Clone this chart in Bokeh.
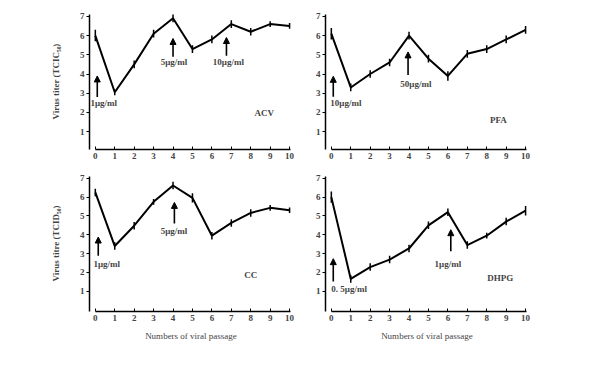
from bokeh.plotting import figure
from bokeh.layouts import column, row
from bokeh.models import ColumnDataSource, Arrow, NormalHead, Label, FixedTicker, Range1d
from bokeh.embed import file_html
from bokeh.resources import INLINE

passages = list(range(11))

acv = [6.0, 3.05, 4.5, 6.1, 6.9, 5.3, 5.8, 6.6, 6.2, 6.6, 6.5]
acv_err = [0.3, 0.15, 0.2, 0.2, 0.2, 0.2, 0.2, 0.2, 0.2, 0.15, 0.15]
pfa = [6.1, 3.3, 4.0, 4.6, 6.0, 4.8, 3.9, 5.05, 5.3, 5.8, 6.3]
pfa_err = [0.3, 0.2, 0.2, 0.2, 0.2, 0.2, 0.25, 0.2, 0.2, 0.2, 0.2]
cc = [6.25, 3.4, 4.48, 5.75, 6.62, 5.96, 3.95, 4.63, 5.16, 5.43, 5.3]
cc_err = [0.2, 0.2, 0.2, 0.15, 0.2, 0.25, 0.2, 0.2, 0.2, 0.15, 0.15]
dhpg = [6.0, 1.65, 2.28, 2.68, 3.27, 4.5, 5.2, 3.45, 3.95, 4.7, 5.28]
dhpg_err = [0.3, 0.2, 0.2, 0.2, 0.2, 0.2, 0.2, 0.2, 0.15, 0.2, 0.25]

# arrows: (x, y_base, y_tip, label, label_x, label_y, label_align)
acv_arrows = [(0.1, 2.8, 3.9, "1μg/ml", -0.25, 2.5, "left"),
              (4.0, 4.9, 5.85, "5μg/ml", 4.05, 4.6, "center"),
              (6.75, 4.95, 5.9, "10μg/ml", 6.85, 4.65, "center")]
pfa_arrows = [(0.1, 2.82, 3.88, "10μg/ml", -0.05, 2.5, "left"),
              (3.95, 3.95, 5.15, "50μg/ml", 4.35, 3.5, "center")]
cc_arrows = [(0.15, 2.88, 3.88, "1μg/ml", -0.1, 2.45, "left"),
             (4.07, 4.6, 5.72, "5μg/ml", 4.05, 4.18, "center")]
dhpg_arrows = [(0.1, 1.52, 2.73, "0. 5μg/ml", 0.0, 1.14, "left"),
               (6.15, 3.12, 4.27, "1μg/ml", 6.0, 2.47, "center")]

x_ticks = list(range(11))
y_ticks = [1, 2, 3, 4, 5, 6, 7]

FONT = "Liberation Serif"


def panel(vals, errs, name, name_x, name_y, arrows, width, height,
          bl, br, bt, bb, y_start, ylabel=None, xlabel=None):
    p = figure(width=width, height=height, output_backend="svg",
               toolbar_location=None,
               x_range=Range1d(-0.3, 10.15),
               y_range=Range1d(y_start, y_start + 7.08 if y_start > 0 else 7.15),
               min_border_left=bl, min_border_right=br,
               min_border_top=bt, min_border_bottom=bb)
    p.outline_line_color = None
    p.grid.visible = False
    src = ColumnDataSource(dict(
        x=passages, y=vals,
        lo=[v - e for v, e in zip(vals, errs)],
        hi=[v + e for v, e in zip(vals, errs)]))
    p.line("x", "y", source=src, line_color="black", line_width=2)
    p.segment(x0="x", y0="lo", x1="x", y1="hi", source=src,
              line_color="black", line_width=1.5)
    for ax, ay0, ay1, txt, lx, ly, al in arrows:
        p.add_layout(Arrow(end=NormalHead(size=6, fill_color="black",
                                          line_color="black"),
                           x_start=ax, y_start=ay0, x_end=ax, y_end=ay1,
                           line_color="black", line_width=1.6))
        p.add_layout(Label(x=lx, y=ly, text=txt, text_align=al,
                           text_baseline="middle", text_font=FONT,
                           text_font_size="9px", text_font_style="bold"))
    p.add_layout(Label(x=name_x, y=name_y, text=name, text_align="center",
                       text_baseline="middle", text_font=FONT,
                       text_font_size="9px", text_font_style="bold"))

    xa = p.xaxis[0]
    xa.ticker = FixedTicker(ticks=x_ticks)
    xa.bounds = (0, 10.05)
    xa.major_tick_in = 3
    xa.major_tick_out = 0
    xa.minor_tick_line_color = None
    xa.axis_line_width = 1.5
    xa.major_label_standoff = 3
    xa.major_label_text_font = FONT
    xa.major_label_text_font_size = "9px"
    xa.major_label_text_font_style = "bold"
    if xlabel:
        xa.axis_label = xlabel
        xa.axis_label_text_font = FONT
        xa.axis_label_text_font_size = "9px"
        xa.axis_label_text_font_style = "normal"
        xa.axis_label_standoff = 7

    ya = p.yaxis[0]
    ya.ticker = FixedTicker(ticks=y_ticks)
    ya.bounds = (y_start, 7.1)
    ya.major_tick_in = 0
    ya.major_tick_out = 3
    ya.minor_tick_line_color = None
    ya.axis_line_width = 1.5
    ya.major_label_standoff = 2
    ya.major_label_text_font = FONT
    ya.major_label_text_font_size = "9px"
    ya.major_label_text_font_style = "bold"
    if ylabel:
        ya.axis_label = ylabel
        ya.axis_label_text_font = FONT
        ya.axis_label_text_font_size = "9px"
        ya.axis_label_text_font_style = "bold"
        ya.axis_label_standoff = 16
    return p


p1 = panel(acv, acv_err, "ACV", 8.7, 1.95, acv_arrows, 312, 170, 89, 20, 13, 21,
           0.07, ylabel="Virus titer (TCIC₅₀)")
p2 = panel(pfa, pfa_err, "PFA", 8.6, 1.6, pfa_arrows, 226, 170, 13, 10, 13, 21,
           0.07)
p3 = panel(cc, cc_err, "CC", 8.0, 1.86, cc_arrows, 312, 181, 89, 20, 5, 40,
           -0.08, ylabel="Virus titre (TCID₅₀)", xlabel="Numbers of viral passage")
p4 = panel(dhpg, dhpg_err, "DHPG", 8.7, 1.72, dhpg_arrows, 226, 181, 13, 10, 5, 40,
           -0.08, xlabel="Numbers of viral passage")

layout = column(row(p1, p2), row(p3, p4))
open("out.html", "w").write(file_html(layout, INLINE))
